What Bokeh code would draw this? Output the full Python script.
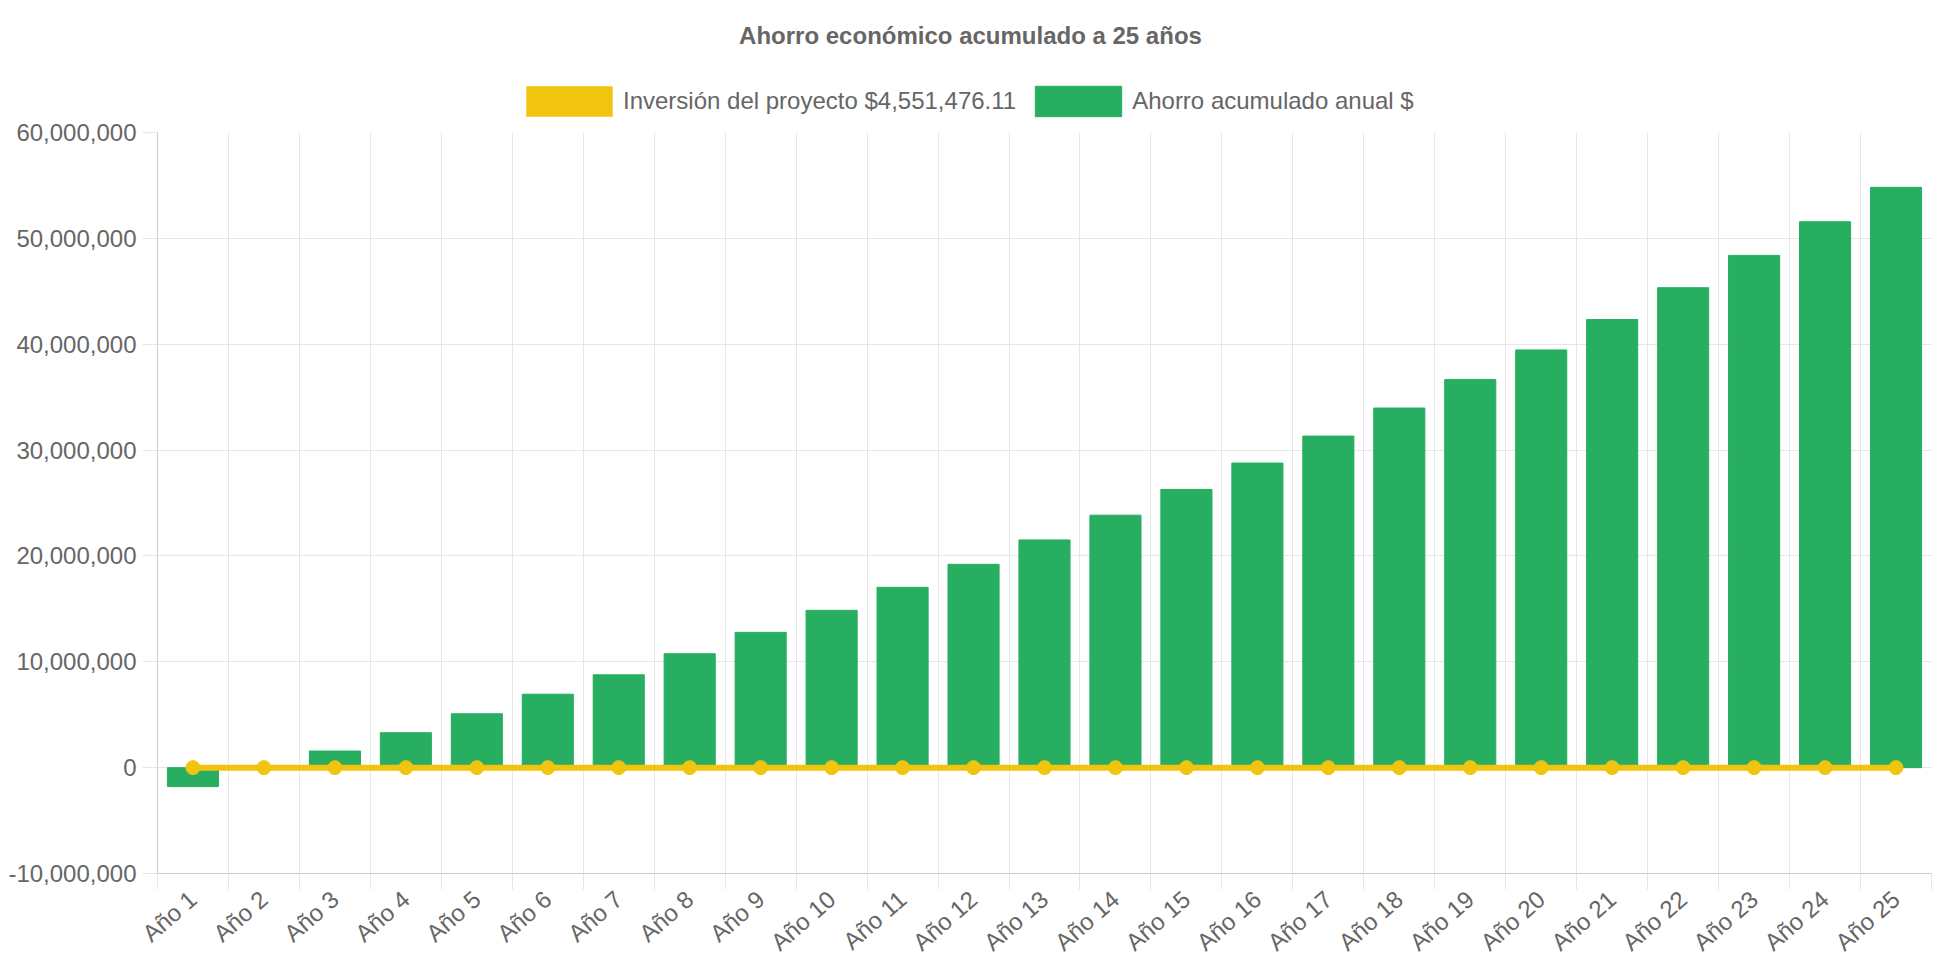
from bokeh.plotting import figure
from bokeh.layouts import column
from bokeh.models import (ColumnDataSource, FactorRange, Range1d, FixedTicker, NumeralTickFormatter,
                          LinearAxis, CategoricalAxis, Grid, Legend, LegendItem, Label)
from bokeh.embed import file_html
from bokeh.resources import INLINE

# ---------------- data ----------------
years = ["Año 1", "Año 2", "Año 3", "Año 4", "Año 5", "Año 6", "Año 7", "Año 8", "Año 9",
         "Año 10", "Año 11", "Año 12", "Año 13", "Año 14", "Año 15", "Año 16", "Año 17",
         "Año 18", "Año 19", "Año 20", "Año 21", "Año 22", "Año 23", "Año 24", "Año 25"]
ahorro = [-1790000, -120000, 1570000, 3300000, 5090000, 6940000, 8770000, 10760000, 12780000,
          14860000, 17030000, 19210000, 21510000, 23850000, 26280000, 28770000, 31320000,
          33970000, 36660000, 39460000, 42330000, 45340000, 48390000, 51570000, 54820000]
inversion = [0, 0, 0, 0, 0, 0, 0, 0, 0, 0, 0, 0, 0, 0, 0, 0, 0, 0, 0, 0, 0, 0, 0, 0, 0]
y_ticks = [-10000000, 0, 10000000, 20000000, 30000000, 40000000, 50000000, 60000000]
title_text = "Ahorro económico acumulado a 25 años"
inversion_label = "Inversión del proyecto $4,551,476.11"
ahorro_label = "Ahorro acumulado anual $"

# ---------------- style ----------------
FONT = "Liberation Sans"
TXT = "#666666"
GRID = "#e6e6e6"
AXIS = "#cccccc"
GREEN = "#27ae60"
YELLOW = "#f1c40f"
W = 1940
HEAD_H = 120
MAIN_H = 848
LEFT = 157     # frame left (shared by both rows)

src = ColumnDataSource(dict(year=years, ahorro=ahorro, inv=inversion))

# ---------------- header (title + legend) ----------------
# legend keys use the same data, kept outside the header's visible y range
head = figure(width=W, height=HEAD_H, title=None,
              x_range=FactorRange(factors=years), y_range=Range1d(1e12, 2e12),
              x_axis_location=None, y_axis_location=None,
              output_backend="svg", toolbar_location=None,
              min_border=0, min_border_left=LEFT, min_border_right=9)
head.outline_line_color = None
head.grid.visible = False
head.background_fill_color = "white"
head.border_fill_color = "white"

inv_key = head.vbar(x="year", top="inv", width=0.72, source=src, fill_color=YELLOW, line_color=None)
sav_key = head.vbar(x="year", top="ahorro", width=0.72, source=src, fill_color=GREEN, line_color=GREEN)

legend = Legend(items=[LegendItem(label=inversion_label, renderers=[inv_key]),
                       LegendItem(label=ahorro_label, renderers=[sav_key])],
                location=(515 - LEFT, 0), orientation="horizontal",
                glyph_width=108, glyph_height=38, label_standoff=0, spacing=8,
                padding=0, margin=0, border_line_color=None, background_fill_alpha=0,
                label_text_font=FONT, label_text_font_size="24px", label_text_color=TXT,
                label_height=30)
head.add_layout(legend, "center")

head.add_layout(Label(x=970 - LEFT, y=HEAD_H - 35, x_units="screen", y_units="screen",
                      text=title_text, text_align="center", text_baseline="middle",
                      text_font=FONT, text_font_size="24px", text_font_style="bold",
                      text_color=TXT))

# ---------------- main chart ----------------
p = figure(width=W, height=MAIN_H, title=None,
           x_range=FactorRange(factors=years),
           y_range=Range1d(y_ticks[0], y_ticks[-1]),
           x_axis_location=None,
           output_backend="svg", toolbar_location=None,
           min_border_left=LEFT, min_border_right=9,
           min_border_top=12, min_border_bottom=90)
p.outline_line_color = None
p.background_fill_color = "white"
p.border_fill_color = "white"
p.xgrid.visible = False

# y axis
p.yaxis.ticker = FixedTicker(ticks=y_ticks)
p.yaxis.formatter = NumeralTickFormatter(format="0,0")
p.yaxis.major_label_text_font = FONT
p.yaxis.major_label_text_font_size = "24px"
p.yaxis.major_label_text_color = TXT
p.yaxis.major_tick_out = 15
p.yaxis.major_tick_in = 0
p.yaxis.major_tick_line_color = GRID
p.yaxis.minor_tick_line_color = None
p.yaxis.axis_line_color = AXIS
p.yaxis.major_label_standoff = 6
p.ygrid.ticker = FixedTicker(ticks=y_ticks)
p.ygrid.grid_line_color = GRID

# vertical grid at category boundaries
bounds = list(range(len(years) + 1))
xg = Grid(dimension=0, ticker=FixedTicker(ticks=bounds), grid_line_color=GRID)
p.add_layout(xg, "center")

# boundary tick axis
ax1 = LinearAxis(ticker=FixedTicker(ticks=bounds),
                 major_tick_out=16, major_tick_in=0, major_tick_line_color=GRID,
                 minor_tick_line_color=None, axis_line_color=AXIS,
                 major_label_text_font_size="0px", major_label_standoff=-4,
                 major_label_text_line_height=0,
                 major_label_overrides={b: "" for b in bounds})
p.add_layout(ax1, "below")

# label axis
ax2 = CategoricalAxis(major_label_orientation=0.72, major_tick_line_color=None,
                      minor_tick_line_color=None, axis_line_color=None,
                      major_label_text_font=FONT, major_label_text_font_size="24px",
                      major_label_text_color=TXT, major_label_standoff=0,
                      major_label_text_line_height=0.6)
p.add_layout(ax2, "below")

# glyphs
p.vbar(x="year", top="ahorro", width=0.72, source=src, fill_color=GREEN, line_color=GREEN)
p.line(x="year", y="inv", source=src, line_color=YELLOW, line_width=6)
p.scatter(x="year", y="inv", source=src, size=14, fill_color=YELLOW, line_color=YELLOW)

layout = column(head, p, spacing=0)
open("out.html", "w").write(file_html(layout, INLINE))
